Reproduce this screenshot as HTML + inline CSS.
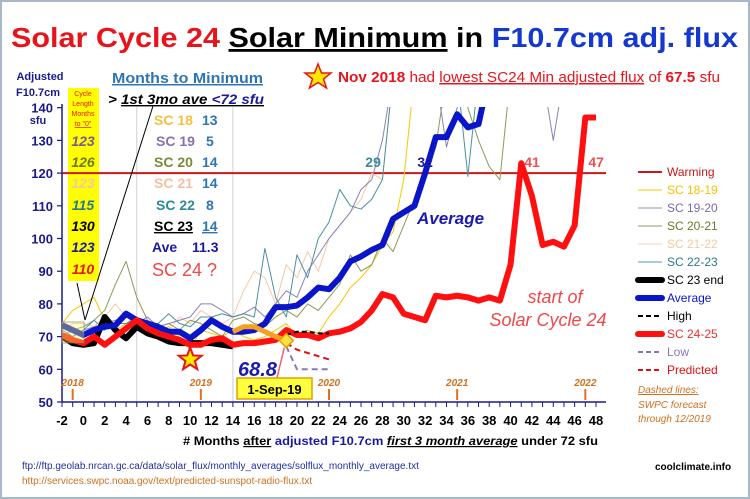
<!DOCTYPE html>
<html><head><meta charset="utf-8"><style>
body{margin:0;background:#fff}
svg{display:block;font-family:"Liberation Sans",sans-serif}
</style></head><body>
<svg id="c" width="750" height="499" viewBox="0 0 750 499">
<rect x="1" y="1" width="748" height="497" fill="#fff" stroke="#a9b8c8" stroke-width="2"/>
<g font-weight="bold" font-size="28">
<text x="11" y="47" textLength="727" lengthAdjust="spacingAndGlyphs"><tspan fill="#e8141c">Solar Cycle 24</tspan> <tspan fill="#000" text-decoration="underline">Solar Minimum</tspan><tspan fill="#000"> in </tspan><tspan fill="#1438d0">F10.7cm adj. flux</tspan></text>
</g>
<polygon points="318,64 321.5,73 331,73 323.5,79 326.5,88 318,82.5 309.5,88 312.5,79 305,73 314.5,73" fill="#ffe800" stroke="#e8141c" stroke-width="1.5"/>
<text x="338" y="82" font-size="15" fill="#e8141c" textLength="382" lengthAdjust="spacingAndGlyphs"><tspan font-weight="bold">Nov 2018</tspan> had <tspan text-decoration="underline">lowest SC24 Min adjusted flux</tspan> of <tspan font-weight="bold">67.5</tspan> sfu</text>
<g font-size="11" font-weight="bold" fill="#1a1a8c" text-anchor="middle">
<text x="40" y="80">Adjusted</text><text x="38" y="96">F10.7cm</text><text x="38" y="124">sfu</text></g>
<rect x="68" y="88" width="31" height="193" fill="#ffff00"/>
<g font-size="7" fill="#e8141c" text-anchor="middle">
<text x="83" y="96">Cycle</text><text x="83" y="106">Length</text><text x="83" y="116">Months</text><text x="83" y="126" text-decoration="underline">to "0"</text></g>
<g font-size="14" font-weight="bold" font-style="italic" text-anchor="middle">
<text x="83" y="146" fill="#7a5a9a">123</text><text x="83" y="167" fill="#6b7a2a">126</text><text x="83" y="188" fill="#f5c8a0">123</text><text x="83" y="210" fill="#2a7a8a">115</text><text x="83" y="231" fill="#000">130</text><text x="83" y="252" fill="#1a1aa0">123</text><text x="83" y="274" fill="#e8141c">110</text></g>
<text x="112" y="83" font-size="15" font-weight="bold" fill="#2e75b6" text-decoration="underline" textLength="151" lengthAdjust="spacingAndGlyphs">Months to Minimum</text>
<text x="108" y="104" font-size="14" font-weight="bold" font-style="italic" textLength="156" lengthAdjust="spacingAndGlyphs"><tspan>&gt; </tspan><tspan text-decoration="underline">1st 3mo ave <tspan fill="#1a1aa0">&lt;72 sfu</tspan></tspan></text>
<g font-size="14" font-weight="bold">
<text x="154" y="125" fill="#f5c040">SC 18</text><text x="202" y="125" fill="#2e75b6">13</text>
<text x="156" y="146" fill="#8a70b0">SC 19</text><text x="206" y="146" fill="#2e75b6">5</text>
<text x="154" y="167" fill="#7a8a3a">SC 20</text><text x="202" y="167" fill="#2e75b6">14</text>
<text x="154" y="188" fill="#f5c0a0">SC 21</text><text x="202" y="188" fill="#2e75b6">14</text>
<text x="156" y="210" fill="#2a8a9a">SC 22</text><text x="206" y="210" fill="#2e75b6">8</text>
<text x="154" y="231" fill="#000" text-decoration="underline">SC 23 </text><text x="202" y="231" fill="#2e75b6" text-decoration="underline">14</text>
<text x="152" y="252" fill="#1a1aa0">Ave</text><text x="192" y="252" fill="#1a1aa0">11.3</text>
<text x="152" y="276" fill="#f04848" font-size="18" font-weight="normal">SC 24 ?</text></g>
<g id="axes"></g>
<g id="plot" clip-path="url(#clip)"></g>
<g id="ann"></g>
<g font-size="12">
<line x1="638" y1="172" x2="662" y2="172" stroke="#c81818" stroke-width="2"/><text x="667" y="176" fill="#c81818">Warming</text>
<line x1="638" y1="190" x2="662" y2="190" stroke="#f5c800" stroke-width="1"/><text x="667" y="194" fill="#f5c000">SC 18-19</text>
<line x1="638" y1="208" x2="662" y2="208" stroke="#9090b8" stroke-width="1"/><text x="667" y="212" fill="#7a6aa8">SC 19-20</text>
<line x1="638" y1="226" x2="662" y2="226" stroke="#8a9a6a" stroke-width="1"/><text x="667" y="230" fill="#6a7a2a">SC 20-21</text>
<line x1="638" y1="244" x2="662" y2="244" stroke="#f5d0b0" stroke-width="1"/><text x="667" y="248" fill="#f5c8a0">SC 21-22</text>
<line x1="638" y1="262" x2="662" y2="262" stroke="#5a9aa8" stroke-width="1"/><text x="667" y="266" fill="#2a7a8a">SC 22-23</text>
<line x1="638" y1="280" x2="662" y2="280" stroke="#000" stroke-width="6" stroke-linecap="round"/><text x="667" y="284" fill="#000">SC 23 end</text>
<line x1="638" y1="298" x2="662" y2="298" stroke="#0a14c8" stroke-width="6" stroke-linecap="round"/><text x="667" y="302" fill="#0a14c8">Average</text>
<line x1="638" y1="316" x2="662" y2="316" stroke="#000" stroke-width="2" stroke-dasharray="5,3"/><text x="667" y="320" fill="#000">High</text>
<line x1="638" y1="334" x2="662" y2="334" stroke="#ff1010" stroke-width="6" stroke-linecap="round"/><text x="667" y="338" fill="#e83030">SC 24-25</text>
<line x1="638" y1="352" x2="662" y2="352" stroke="#8878b8" stroke-width="2" stroke-dasharray="5,3"/><text x="667" y="356" fill="#8878b8">Low</text>
<line x1="638" y1="370" x2="662" y2="370" stroke="#e01010" stroke-width="2" stroke-dasharray="5,3"/><text x="667" y="374" fill="#e01010">Predicted</text></g>
<g font-size="10" font-style="italic" fill="#d07020">
<text x="638" y="393" text-decoration="underline">Dashed lines:</text><text x="638" y="408">SWPC forecast</text><text x="638" y="422">through 12/2019</text></g>
<g font-size="12" font-weight="bold">
<text x="183" y="445" textLength="415" lengthAdjust="spacingAndGlyphs"># Months <tspan text-decoration="underline">after</tspan> <tspan fill="#1a1aa0">adjusted F10.7cm</tspan> <tspan font-style="italic" text-decoration="underline">first 3 month average</tspan> under 72 sfu</text></g>
<text x="22" y="469" font-size="10" fill="#2030a0">ftp://ftp.geolab.nrcan.gc.ca/data/solar_flux/monthly_averages/solflux_monthly_average.txt</text>
<text x="22" y="484" font-size="10" fill="#d07020">http://services.swpc.noaa.gov/text/predicted-sunspot-radio-flux.txt</text>
<text x="655" y="470" font-size="10" font-weight="bold" fill="#000">coolclimate.info</text>
<defs><clipPath id="clip"><rect x="62" y="107" width="544" height="295"/></clipPath></defs>
</svg>
<script>
const months=[-2,-1,0,1,2,3,4,5,6,7,8,9,10,11,12,13,14,15,16,17,18,19,20,21,22,23,24,25,26,27,28,29,30,31,32,33,34,35,36,37,38,39,40,41,42,43,44,45,46,47,48];
const yTicks=[50,60,70,80,90,100,110,120,130,140];
const xTickLabels=[-2,0,2,4,6,8,10,12,14,16,18,20,22,24,26,28,30,32,34,36,38,40,42,44,46,48];
const yearLabels=["2018","2019","2020","2021","2022"];
const yearMonths=[-1,11,23,35,47];
const warmingLevel=120;
const sc1819=[74,78,80,82,75,72,74,76,74,72,73,70,66,72,71,70,72,70,69,70,72,74,70,72,71,76,80,85,88,92,98,102,118,150,150,150,150,150,150,150,150,150,150,150,150,150,150,150,150,150,150];
const sc1920=[71,70,72,73,74,75,76,74,76,73,74,75,76,80,80,78,76,77,79,76,80,84,82,90,95,100,104,108,115,118,130,150,150,150,150,150,128,140,150,150,150,150,150,150,150,150,130,150,150,150,150];
const sc2021=[70,72,73,75,78,86,93,82,75,73,74,72,75,74,72,70,75,76,74,73,76,78,76,80,78,82,86,95,90,92,100,96,104,112,120,128,150,150,140,130,122,118,150,150,150,150,150,150,150,150,150];
const sc2122=[72,74,74,73,76,80,76,74,75,73,72,76,74,78,76,74,76,84,90,88,80,92,88,96,90,100,104,108,112,120,118,150,150,150,150,150,150,150,150,150,150,150,150,150,150,150,150,150,150,150,150];
const sc2223=[72,70,72,75,72,74,74,76,73,74,77,74,73,76,76,77,76,77,76,97,82,76,95,88,100,105,115,110,109,112,118,150,150,150,150,150,150,150,119,150,150,150,150,150,150,150,150,150,150,150,150];
const sc23end=[70,68,67.5,68,76,72,69.5,73,71,70,68.5,68,68,68,68,67.5,67];
const average=[73.5,72,70.5,72,73,73.5,77,75,74,73,71.5,71.5,69.5,72,75,73,71.5,71.5,72,74,79,79,79.5,82,85,84.5,88,93,94.5,96.5,98,106,108,110,120,131,131,138,134,135,150];
const sc2425=[70.5,69,68,70,67.5,70,72.5,75,72.5,71,70,69,67.5,67.5,69,69.5,67.5,68,68,68.5,69,72,70.5,70.5,69.5,71,71.5,72.5,74.5,78,83,82,77,76,75,82.5,82,82.5,82,81,82,81,92,123,113,98,99,97.5,104,137,137,150];
const orangeMonths=[14,15,16,17,18,19];
const orangeVals=[71.5,73,73,71.5,70,68.8];
const fcMonths=[19,20,21,22,23];
const highVals=[70.5,71.5,71.5,71,71];
const predVals=[68,66,65,64,63];
const lowVals=[67,60,60,60,60];
const starMonth=10, starVal=63;
const diamondMonth=19, diamondVal=68.8;
const crossLabels=["29","32","41","47"];
const crossMonths=[29,32,41,47];

const NS="http://www.w3.org/2000/svg";
const X=m=>62+(m+2)*10.68;
const Y=v=>402-(v-50)*3.27;
function mk(parent,tag,attrs){const e=document.createElementNS(NS,tag);for(const k in attrs)e.setAttribute(k,attrs[k]);parent.appendChild(e);return e;}
const axes=document.getElementById('axes'),plot=document.getElementById('plot'),ann=document.getElementById('ann');

[5,14].forEach(m=>{const l=mk(axes,'line',{x1:X(m),y1:107,x2:X(m),y2:402,stroke:'#d0d0d0','stroke-width':1});

});
const ya=mk(axes,'line',{x1:62,y1:104,x2:62,y2:402,stroke:'#1a1a8c','stroke-width':1.5});


yTicks.forEach(v=>{
 mk(axes,'line',{x1:57,y1:Y(v),x2:62,y2:Y(v),stroke:'#1a1a8c','stroke-width':1.2});
 const t=mk(axes,'text',{x:53,y:Y(v)+5,'text-anchor':'end','font-size':13,'font-weight':'bold',fill:'#1a1a8c'});
 t.textContent=v;
 
 
});
const xa=mk(axes,'line',{x1:62,y1:402,x2:606,y2:402,stroke:'#1a1a8c','stroke-width':1.5});


months.forEach(m=>mk(axes,'line',{x1:X(m),y1:402,x2:X(m),y2:407,stroke:'#1a1a8c','stroke-width':1}));
xTickLabels.forEach(m=>{const t=mk(axes,'text',{x:X(m),y:425,'text-anchor':'middle','font-size':13,'font-weight':'bold',fill:'#000'});
 t.textContent=m;
 
 });
yearLabels.forEach((y,i)=>{const m=yearMonths[i];
 mk(axes,'line',{x1:X(m),y1:389,x2:X(m),y2:400,stroke:'#e07020','stroke-width':2});
 const t=mk(axes,'text',{x:X(m),y:386,'text-anchor':'middle','font-size':10,'font-style':'italic','font-weight':'bold',fill:'#d07020'});
 t.textContent=y;
 
 });
const wl=mk(plot,'line',{x1:62,y1:Y(warmingLevel),x2:606,y2:Y(warmingLevel),stroke:'#c81818','stroke-width':2});



function series(ms,vals,stroke,w,name,dash){
 const pts=vals.map((v,i)=>X(ms[i])+','+Y(v)).join(' ');
 const a={points:pts,fill:'none',stroke:stroke,'stroke-width':w,'stroke-linejoin':'round'};
 if(dash)a['stroke-dasharray']=dash;
 const p=mk(plot,'polyline',a);
 
 
 return p;}
series(months,sc1819,'#f5c800',1,'sc18-19-line');
series(months,sc2122,'#f5c8a8',1,'sc21-22-line');
series(months,sc2021,'#8a9a5a',1,'sc20-21-line');
series(months,sc1920,'#8a80b8',1,'sc19-20-line');
series(months,sc2223,'#4a90a0',1,'sc22-23-line');
series(months,sc23end,'#000',6,'sc23-end-line');
series(months,average,'#0a14c8',6,'average-line');
series(months,sc2425,'#ff1010',6,'sc24-25-line');
series(orangeMonths,orangeVals,'#f5a020',5,'sc24-alt-line');
series(fcMonths,highVals,'#000',2,'high-forecast-line','5,3');
series(fcMonths,predVals,'#e01010',2,'predicted-forecast-line','6,4');
series(fcMonths,lowVals,'#8878b8',2,'low-forecast-line','6,4');

const sx=X(starMonth),sy=Y(starVal);let sp=[];
for(let i=0;i<10;i++){const r=i%2?5:12,a=-Math.PI/2+i*Math.PI/5;sp.push((sx+r*Math.cos(a))+','+(sy+r*Math.sin(a)));}
const st=mk(ann,'polygon',{points:sp.join(' '),fill:'#ffe800',stroke:'#e8141c','stroke-width':2});


const dx=X(diamondMonth),dy=Y(diamondVal);
const dm=mk(ann,'polygon',{points:`${dx},${dy-7} ${dx+7},${dy} ${dx},${dy+7} ${dx-7},${dy}`,fill:'#ffe040',stroke:'#e0a000','stroke-width':1.5});


const arr=mk(ann,'line',{x1:277,y1:378,x2:dx-2,y2:dy+7,stroke:'#f06070','stroke-width':1.5});


const vl=mk(ann,'text',{x:238,y:376,'font-size':20,'font-weight':'bold','font-style':'italic',fill:'#1a1ab0'});
vl.textContent='68.8';


const db=mk(ann,'rect',{x:237,y:378,width:75,height:21,fill:'#ffff40',stroke:'#e0a000','stroke-width':1.5});


const dt=mk(ann,'text',{x:274.5,y:394,'text-anchor':'middle','font-size':13,'font-weight':'bold',fill:'#000'});
dt.textContent='1-Sep-19';


const cc=['#3a8a9a','#1a1aa0','#f05050','#f05050'];
const cOff=[-20,0,3,3];
crossLabels.forEach((s,i)=>{const t=mk(ann,'text',{x:X(crossMonths[i])+cOff[i],y:Y(warmingLevel)-6,'font-size':14,'font-weight':'bold','text-anchor':i>1?'start':'middle',fill:cc[i]});
 t.textContent=s;
 
 });
const av=mk(ann,'text',{x:417,y:224,'font-size':17,'font-weight':'bold','font-style':'italic',fill:'#1a1ab0'});
av.textContent='Average';


const s1=mk(ann,'text',{x:555,y:303,'text-anchor':'middle','font-size':18,'font-style':'italic',fill:'#f04848'});
s1.textContent='start of';


const s2=mk(ann,'text',{x:548,y:326,'text-anchor':'middle','font-size':18,'font-style':'italic',fill:'#f04848'});
s2.textContent='Solar Cycle 24';


const p1=mk(ann,'line',{x1:153,y1:106,x2:85,y2:320,stroke:'#000','stroke-width':1});


const p2=mk(ann,'line',{x1:77,y1:283,x2:85,y2:320,stroke:'#000','stroke-width':1});


const hb=mk(ann,'rect',{x:62,y:322,width:22,height:21,fill:'#ffff60','fill-opacity':0.35,stroke:'#777','stroke-width':0.6});


</script>
</body></html>
